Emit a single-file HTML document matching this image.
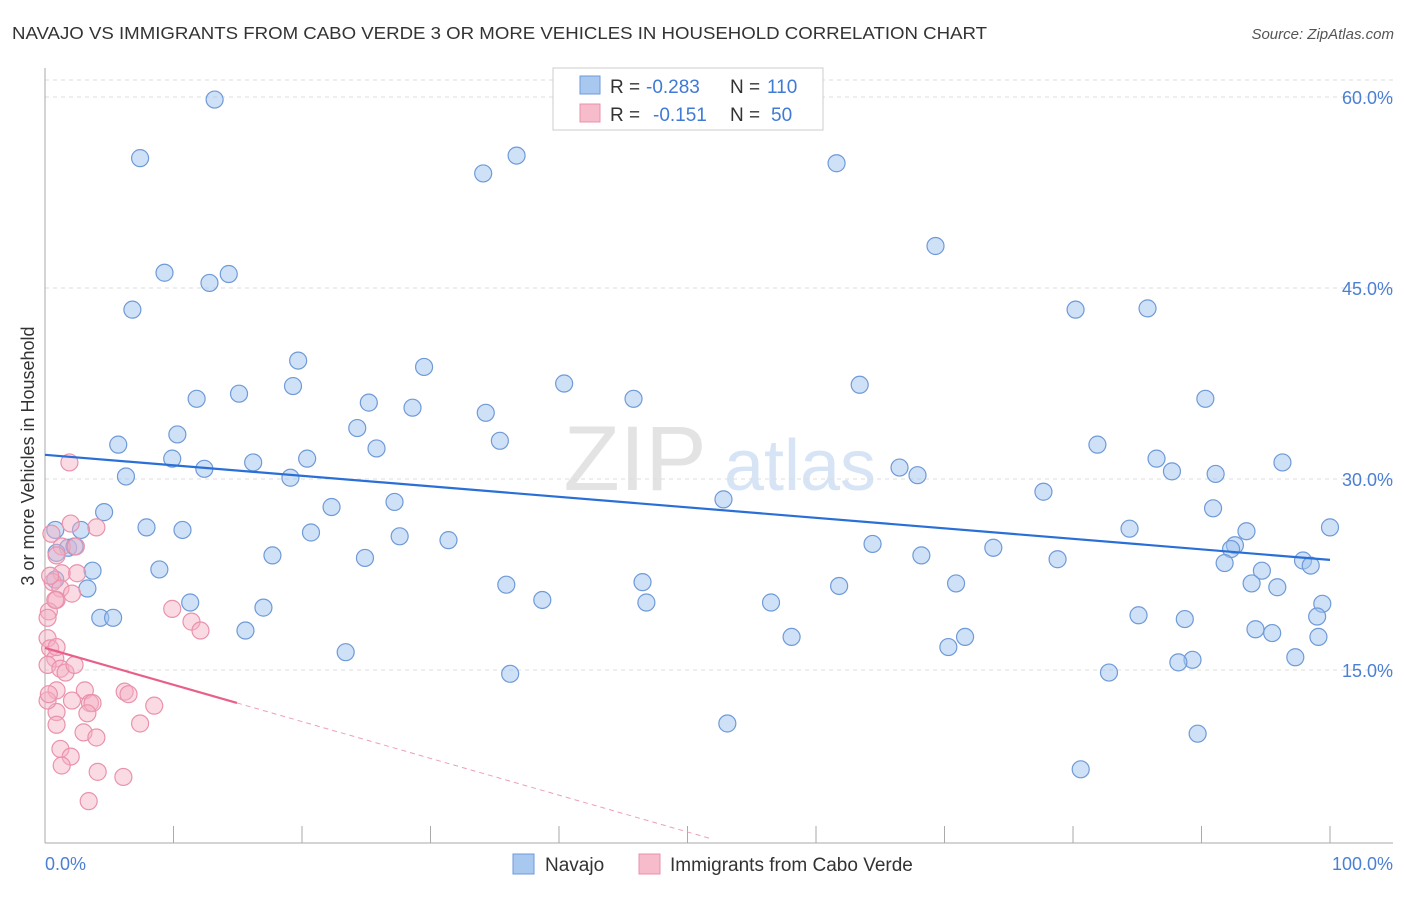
<!DOCTYPE html>
<html><head><meta charset="utf-8"><style>
body{margin:0;background:#fff;font-family:"Liberation Sans",sans-serif}
svg text{font-family:"Liberation Sans",sans-serif}
</style></head><body>
<svg id="c" width="1406" height="892" xmlns="http://www.w3.org/2000/svg">
<text x="12" y="39" font-size="17.5" fill="#333" textLength="975" lengthAdjust="spacingAndGlyphs">NAVAJO VS IMMIGRANTS FROM CABO VERDE 3 OR MORE VEHICLES IN HOUSEHOLD CORRELATION CHART</text>
<text x="1394" y="39" font-size="15" fill="#555" font-style="italic" text-anchor="end">Source: ZipAtlas.com</text>
<g><text x="635" y="490" font-size="92" fill="#e3e3e3" font-family="Liberation Serif" text-anchor="middle">ZIP</text><text x="800" y="490" font-size="72" fill="#d6e4f5" text-anchor="middle">atlas</text></g>
<g id="grid"></g><g id="axes"></g><g id="marks"></g>
<text transform="translate(34,456) rotate(-90)" font-size="18" fill="#333" text-anchor="middle">3 or more Vehicles in Household</text>
<g>
<rect x="553" y="68" width="270" height="62" fill="#fff" stroke="#ccc"/>
<rect x="580" y="76" width="20" height="18" fill="#a9c8ef" stroke="#6f9ad8"/>
<rect x="580" y="104" width="20" height="18" fill="#f7bccb" stroke="#e892aa"/>
<text x="610" y="93" font-size="19" fill="#333">R =</text>
<text x="646" y="93" font-size="19" fill="#3f7ad6">-0.283</text>
<text x="730" y="93" font-size="19" fill="#333">N =</text>
<text x="767" y="93" font-size="19" fill="#3f7ad6">110</text>
<text x="610" y="121" font-size="19" fill="#333">R =</text>
<text x="653" y="121" font-size="19" fill="#3f7ad6">-0.151</text>
<text x="730" y="121" font-size="19" fill="#333">N =</text>
<text x="771" y="121" font-size="19" fill="#3f7ad6">50</text>
</g>
<g>
<rect x="513" y="854" width="21" height="20" fill="#a9c8ef" stroke="#6f9ad8"/>
<text x="545" y="871" font-size="19" fill="#333">Navajo</text>
<rect x="639" y="854" width="21" height="20" fill="#f7bccb" stroke="#e892aa"/>
<text x="670" y="871" font-size="19" fill="#333">Immigrants from Cabo Verde</text>
</g>
</svg>
<script>
const navX=[13.2,7.4,36.7,34.1,61.6,69.3,9.3,14.3,12.8,6.8,80.2,85.8,19.7,29.5,19.3,40.4,63.4,11.8,15.1,25.2,28.6,45.8,90.3,34.3,24.3,10.3,5.7,35.4,81.9,25.8,9.9,16.2,20.4,12.4,6.3,19.1,86.5,87.7,91.1,96.3,66.5,67.9,77.7,52.8,22.3,27.2,90.9,4.6,0.8,7.9,10.7,20.7,2.8,100,84.4,93.5,27.6,31.4,64.4,73.8,92.6,92.3,1.8,2.3,0.9,17.7,24.9,68.2,78.8,97.9,98.5,91.8,3.7,8.9,94.7,0.8,3.3,35.9,46.5,61.8,70.9,93.9,95.9,11.3,17.0,38.7,46.8,56.5,99.4,4.3,5.3,85.1,88.7,99.0,15.6,58.1,71.6,94.2,95.5,99.1,70.3,23.4,97.3,89.3,88.2,82.8,36.2,53.1,89.7,80.6];
const navY=[59.8,55.2,55.4,54.0,54.8,48.3,46.2,46.1,45.4,43.3,43.3,43.4,39.3,38.8,37.3,37.5,37.4,36.3,36.7,36.0,35.6,36.3,36.3,35.2,34.0,33.5,32.7,33.0,32.7,32.4,31.6,31.3,31.6,30.8,30.2,30.1,31.6,30.6,30.4,31.3,30.9,30.3,29.0,28.4,27.8,28.2,27.7,27.4,26.0,26.2,26.0,25.8,26.0,26.2,26.1,25.9,25.5,25.2,24.9,24.6,24.8,24.5,24.6,24.7,24.2,24.0,23.8,24.0,23.7,23.6,23.2,23.4,22.8,22.9,22.8,22.1,21.4,21.7,21.9,21.6,21.8,21.8,21.5,20.3,19.9,20.5,20.3,20.3,20.2,19.1,19.1,19.3,19.0,19.2,18.1,17.6,17.6,18.2,17.9,17.6,16.8,16.4,16.0,15.8,15.6,14.8,14.7,10.8,10.0,7.2];
const cvX=[1.9,2.0,4.0,0.5,1.3,2.4,0.9,1.3,2.5,0.6,1.2,2.1,0.9,0.3,0.2,9.9,11.4,12.1,0.2,0.4,0.8,0.2,1.2,1.6,2.3,0.9,3.1,6.2,6.5,2.1,3.5,3.7,8.5,0.9,3.3,0.2,0.9,3.0,4.0,7.4,1.2,2.0,1.3,4.1,6.1,3.4,0.9,0.3,0.8,0.4];
const cvY=[31.3,26.5,26.2,25.7,24.7,24.7,24.0,22.6,22.6,21.9,21.4,21.0,20.5,19.6,19.1,19.8,18.8,18.1,17.5,16.7,15.9,15.4,15.1,14.8,15.4,13.4,13.4,13.3,13.1,12.6,12.4,12.4,12.2,11.7,11.6,12.6,10.7,10.1,9.7,10.8,8.8,8.2,7.5,7.0,6.6,4.7,16.8,13.1,20.5,22.4];
const yTicks=[15,30,45,60];
const yTickLabels=["15.0%","30.0%","45.0%","60.0%"];
const xTicks=[0,10,20,30,40,50,60,70,80,90,100];
const navTrend=[31.9,23.65];
const cvTrend=[16.73,-0.289];
const cvSolidEnd=14.94, cvDashEnd=51.8;

const NS="http://www.w3.org/2000/svg";
const sx=v=>45+v*12.85, sy=v=>861-v*12.733;
function mk(t,a,p){const e=document.createElementNS(NS,t);for(const k in a)e.setAttribute(k,a[k]);p.appendChild(e);return e;}
const grid=document.getElementById('grid'),axes=document.getElementById('axes'),marks=document.getElementById('marks');
let tg=mk('line',{x1:45,x2:1393,y1:80,y2:80,stroke:'#ddd','stroke-dasharray':'4,4'},grid);


yTicks.forEach((v,i)=>{
 const g=mk('line',{x1:45,x2:1393,y1:sy(v),y2:sy(v),stroke:'#ddd','stroke-dasharray':'4,4'},grid);
 
 
 const t=mk('text',{x:1393,y:sy(v)+7,'font-size':18,fill:'#4a7fd4','text-anchor':'end'},axes);t.textContent=yTickLabels[i];
 
 
});
let ya=mk('line',{x1:45,x2:45,y1:68,y2:843,stroke:'#aaa'},axes);


let xa=mk('line',{x1:45,x2:1393,y1:843,y2:843,stroke:'#aaa'},axes);


xTicks.forEach(v=>{const l=mk('line',{x1:sx(v),x2:sx(v),y1:826,y2:843,stroke:'#aaa'},axes);
 
 });
let x0=mk('text',{x:45,y:870,'font-size':18,fill:'#4a7fd4'},axes);x0.textContent='0.0%';


let x1=mk('text',{x:1393,y:870,'font-size':18,fill:'#4a7fd4','text-anchor':'end'},axes);x1.textContent='100.0%';


navX.forEach((v,i)=>{const c=mk('circle',{cx:sx(v),cy:sy(navY[i]),r:8.5,fill:'rgba(160,195,238,0.5)',stroke:'#6f9ad8','stroke-width':1.2},marks);
 
 });
cvX.forEach((v,i)=>{const c=mk('circle',{cx:sx(v),cy:sy(cvY[i]),r:8.5,fill:'rgba(245,175,195,0.45)',stroke:'#ea92ab','stroke-width':1.2},marks);
 
 });
let nt=mk('line',{x1:sx(0),y1:sy(navTrend[0]),x2:sx(100),y2:sy(navTrend[1]),stroke:'#2a6fd6','stroke-width':2.2},marks);


let ct=mk('line',{x1:sx(0),y1:sy(cvTrend[0]),x2:sx(cvSolidEnd),y2:sy(cvTrend[0]+cvTrend[1]*cvSolidEnd),stroke:'#e8608a','stroke-width':2.2},marks);


let cd=mk('line',{x1:sx(cvSolidEnd),y1:sy(cvTrend[0]+cvTrend[1]*cvSolidEnd),x2:sx(cvDashEnd),y2:sy(cvTrend[0]+cvTrend[1]*cvDashEnd),stroke:'#eca0b6','stroke-width':1,'stroke-dasharray':'5,4'},marks);


</script>
</body></html>
